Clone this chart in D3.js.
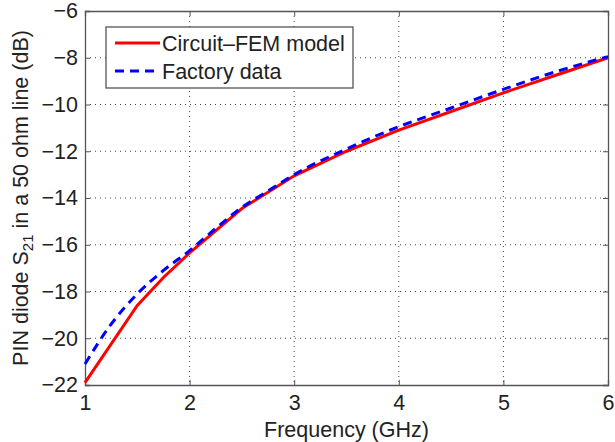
<!DOCTYPE html>
<html>
<head>
<meta charset="utf-8">
<script src="https://cdn.jsdelivr.net/npm/d3@7"></script>
<style>
  body { margin: 0; background: #fff; }
  text { font-family: "Liberation Sans", Arial, Helvetica, sans-serif; fill: #222; }
</style>
</head>
<body>
<div id="graphContainer"></div>
<script>
// дані
const femFreq = [1, 1.5, 1.75, 2, 2.5, 3, 3.5, 4, 4.5, 5, 5.5, 6];
const femS21 = [-21.9, -18.6, -17.4, -16.35, -14.45, -13.05, -12.0, -11.1, -10.3, -9.5, -8.75, -8.0];
const factFreq = [1, 1.25, 1.5, 1.75, 2, 2.25, 2.5, 2.75, 3, 3.5, 4, 4.5, 5, 5.5, 6];
const factS21 = [-21.1, -19.4, -18.1, -17.1, -16.25, -15.3, -14.4, -13.7, -13.0, -11.9, -10.95, -10.15, -9.35, -8.6, -7.95];
const xTicks = [1, 2, 3, 4, 5, 6];
const yTicks = [-22, -20, -18, -16, -14, -12, -10, -8, -6];
const legendNames = ["Circuit\u2013FEM model", "Factory data"];

function draw() {
    let width = 615;
    let height = 442;
    let m = { left: 85, right: 7, top: 11, bottom: 57 };
    let fs = "21.5px";

    let svg = d3.select("#graphContainer").append("svg")
        .attr("width", width)
        .attr("height", height);

    let x = d3.scaleLinear().domain([1, 6]).range([m.left, width - m.right]);
    let y = d3.scaleLinear().domain([-22, -6]).range([height - m.bottom, m.top]);

    // сітка
    let grid = svg.append("g")
        .attr("stroke", "#444")
        .attr("stroke-width", 1)
        .attr("stroke-dasharray", "1,4");
    grid.selectAll("line.gx")
        .data(xTicks.slice(1, -1))
        .enter().append("line")
        .attr("x1", d => x(d)).attr("x2", d => x(d))
        .attr("y1", y(-6)).attr("y2", y(-22));
    grid.selectAll("line.gy")
        .data(yTicks.slice(1, -1))
        .enter().append("line")
        .attr("x1", x(1)).attr("x2", x(6))
        .attr("y1", d => y(d)).attr("y2", d => y(d));

    // осі
    let fmt = d => d < 0 ? "\u2212" + Math.abs(d) : d;
    let xAxis = svg.append("g")
        .attr("transform", `translate(0,${y(-22)})`)
        .call(d3.axisBottom(x).tickValues(xTicks).tickSize(-5).tickPadding(10).tickFormat(fmt));
    let xAxisTop = svg.append("g")
        .attr("transform", `translate(0,${y(-6)})`)
        .call(d3.axisTop(x).tickValues(xTicks).tickSize(-5).tickFormat(""));
    let yAxis = svg.append("g")
        .attr("transform", `translate(${x(1)},0)`)
        .call(d3.axisLeft(y).tickValues(yTicks).tickSize(-5).tickPadding(7).tickFormat(fmt));
    let yAxisRight = svg.append("g")
        .attr("transform", `translate(${x(6)},0)`)
        .call(d3.axisRight(y).tickValues(yTicks).tickSize(-5).tickFormat(""));

    [xAxis, xAxisTop, yAxis, yAxisRight].forEach(a => {
        a.select(".domain").attr("stroke", "#555").attr("stroke-width", 1.3);
        a.selectAll(".tick line").attr("stroke", "#555");
        a.selectAll(".tick text")
            .style("font-family", "'Liberation Sans', Arial, sans-serif")
            .style("font-size", fs)
            .attr("fill", "#222");
    });

    // лінії
    let line = d3.line().x(d => x(d[0])).y(d => y(d[1]));
    svg.append("path")
        .datum(femFreq.map((f, i) => [f, femS21[i]]))
        .attr("d", line)
        .attr("fill", "none")
        .attr("stroke", "#ff0000")
        .attr("stroke-width", 3);
    svg.append("path")
        .datum(factFreq.map((f, i) => [f, factS21[i]]))
        .attr("d", d3.line().curve(d3.curveMonotoneX).x(d => x(d[0])).y(d => y(d[1])))
        .attr("fill", "none")
        .attr("stroke", "#0000ff")
        .attr("stroke-width", 3)
        .attr("stroke-dasharray", "9,6");

    // легенда
    let lg = svg.append("g");
    lg.append("rect")
        .attr("x", 106).attr("y", 27)
        .attr("width", 247).attr("height", 61)
        .attr("fill", "#fff")
        .attr("stroke", "#555")
        .attr("stroke-width", 1.3);
    let styles = [
        { c: "#ff0000", dash: null },
        { c: "#0000ff", dash: "9,6" }
    ];
    legendNames.forEach((name, i) => {
        let yy = 43 + i * 28;
        lg.append("line")
            .attr("x1", 115).attr("x2", 160)
            .attr("y1", yy).attr("y2", yy)
            .attr("stroke", styles[i].c)
            .attr("stroke-width", 3)
            .attr("stroke-dasharray", styles[i].dash);
        lg.append("text")
            .attr("x", 162).attr("y", yy + 7.5)
            .style("font-size", fs)
            .text(name);
    });

    // підписи осей
    svg.append("text")
        .attr("x", (x(1) + x(6)) / 2)
        .attr("y", 437)
        .attr("text-anchor", "middle")
        .style("font-size", fs)
        .text("Frequency (GHz)");

    let yl = svg.append("text")
        .attr("transform", `translate(28,${(y(-6) + y(-22)) / 2}) rotate(-90)`)
        .attr("text-anchor", "middle")
        .style("font-size", fs);
    yl.append("tspan").text("PIN diode S");
    yl.append("tspan").attr("dy", 5).style("font-size", "15px").text("21");
    yl.append("tspan").attr("dy", -5).text(" in a 50 ohm line (dB)");
}

draw();
</script>
</body>
</html>
